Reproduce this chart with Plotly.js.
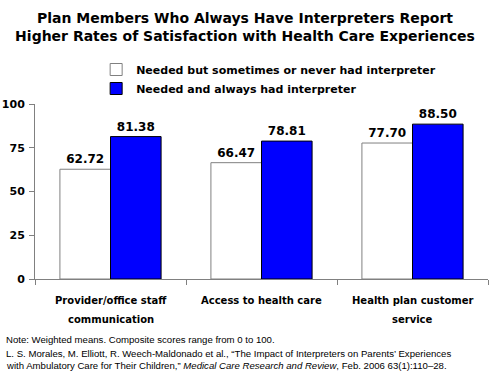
<!DOCTYPE html>
<html>
<head>
<meta charset="utf-8">
<script src="https://cdn.plot.ly/plotly-3.0.1.min.js"></script>
<style>html,body{margin:0;padding:0;background:#fff;}#chart{width:490px;height:374px;}</style>
</head>
<body>
<div id="chart"></div>
<script>
const categories = ["Provider/office staff<br>communication", "Access to health care", "Health plan customer<br>service"];
const seriesNames = ["Needed but sometimes or never had interpreter", "Needed and always had interpreter"];
const sometimesValues = [62.72, 66.47, 77.70];
const alwaysValues = [81.38, 78.81, 88.50];
const yTickValues = [0, 25, 50, 75, 100];
const noteLines = [
  "Note: Weighted means. Composite scores range from 0 to 100.",
  "L. S. Morales, M. Elliott, R. Weech-Maldonado et al., \u201cThe Impact of Interpreters on Parents\u2019 Experiences",
  "with Ambulatory Care for Their Children,\u201d <i>Medical Care Research and Review</i>, Feb. 2006 63(1):110\u201328."
];

const boldFont = "DejaVu Sans";
const traces = [
  {
    type: "bar", name: seriesNames[0], x: categories, y: sometimesValues,
    marker: {color: "#ffffff", line: {color: "#808080", width: 1}},
    text: sometimesValues.map(v => v.toFixed(2)), textposition: "outside",
    textfont: {family: boldFont, size: 12, color: "#000", weight: "bold"},
    cliponaxis: false, hoverinfo: "none"
  },
  {
    type: "bar", name: seriesNames[1], x: categories, y: alwaysValues,
    marker: {color: "#0000ff", line: {color: "#000000", width: 1}},
    text: alwaysValues.map(v => v.toFixed(2)), textposition: "outside",
    textfont: {family: boldFont, size: 12, color: "#000", weight: "bold"},
    cliponaxis: false, hoverinfo: "none"
  }
];

const annotations = [];
// Note lines
const noteY = [-0.343, -0.423, -0.497];
noteLines.forEach((t, i) => annotations.push({
  text: t, xref: "paper", yref: "paper", x: -0.068, y: noteY[i],
  xanchor: "left", yanchor: "middle", showarrow: false, align: "left",
  font: {family: "Liberation Sans", size: 9.6, color: "#000"}
}));
// Category labels (one annotation per line, placed on the category axis)
const catLineY = [-0.12, -0.234];
categories.forEach(c => {
  c.split("<br>").forEach((line, i) => annotations.push({
    text: line, xref: "x", yref: "paper", x: c, y: catLineY[i],
    xanchor: "center", yanchor: "middle", showarrow: false,
    font: {family: boldFont, size: 10, color: "#000", weight: "bold"}
  }));
});

const layout = {
  width: 490, height: 374,
  margin: {l: 35, r: 2, t: 104, b: 95},
  paper_bgcolor: "#fff", plot_bgcolor: "#fff",
  font: {family: boldFont, color: "#000"},
  title: {
    text: "Plan Members Who Always Have Interpreters Report<br>Higher Rates of Satisfaction with Health Care Experiences",
    font: {family: boldFont, size: 14, color: "#000", weight: "bold"},
    x: 0.5, xref: "container", xanchor: "center",
    y: 0.939, yref: "container", yanchor: "middle"
  },
  barmode: "group", bargap: 0.33, bargroupgap: 0,
  showlegend: true,
  legend: {
    x: 0.135, y: 1.28, xanchor: "left", yanchor: "top",
    font: {family: boldFont, size: 11, color: "#000", weight: "bold"},
    bgcolor: "rgba(0,0,0,0)", tracegroupgap: 0, traceorder: "normal"
  },
  xaxis: {
    type: "category", showgrid: false, zeroline: false,
    showline: true, linecolor: "#808080", linewidth: 1,
    ticks: "outside", tickson: "boundaries", ticklen: 5, tickcolor: "#808080",
    showticklabels: false
  },
  yaxis: {
    range: [0, 100], tickvals: yTickValues, showgrid: false, zeroline: false,
    showline: true, linecolor: "#808080", linewidth: 1,
    ticks: "outside", ticklen: 5, tickcolor: "#808080",
    tickfont: {family: boldFont, size: 11, color: "#000", weight: "bold"},
    ticklabelstandoff: 2
  },
  annotations: annotations
};

Plotly.newPlot("chart", traces, layout, {displayModeBar: false, staticPlot: true});
</script>
</body>
</html>
